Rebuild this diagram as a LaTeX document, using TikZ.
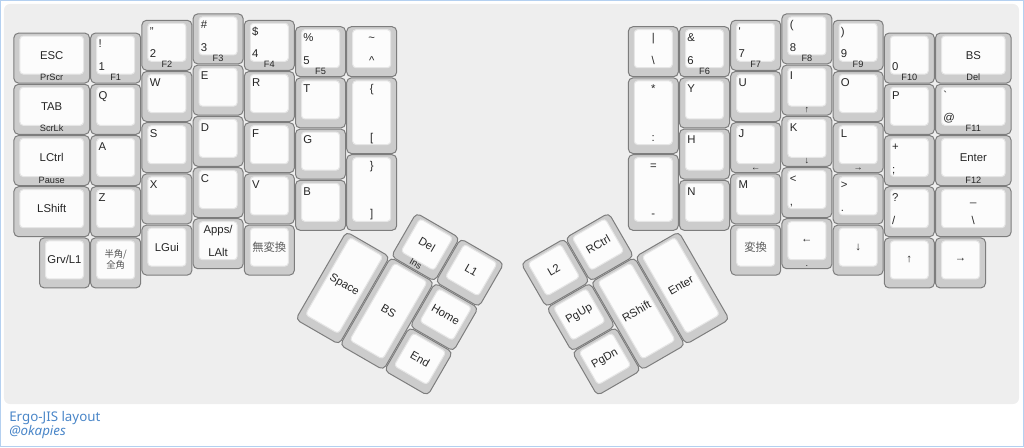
\documentclass[tikz,border=0pt]{standalone}
\usepackage{fontspec}
\setmainfont{Liberation Sans}
\newfontfamily\jpfont{Noto Sans CJK JP}
\newfontfamily\capfont{Noto Sans}

\definecolor{keyside}{HTML}{CCCCCC}
\definecolor{keyedge}{HTML}{7D7D7D}
\definecolor{keyface}{HTML}{FCFCFC}
\definecolor{faceedge}{HTML}{E6E6E6}
\definecolor{panelgray}{HTML}{EEEEEE}
\definecolor{framblue}{HTML}{B4D0F0}
\definecolor{captblue}{HTML}{4A86C8}
\definecolor{ink}{HTML}{262626}

% key: name, x, y, w, h, top-left, bottom-left, centre, front
\newcommand{\kbkey}[9]{%
  \node[keycap, minimum width={#4*38.4pt-0.9pt}, minimum height={#5*38.4pt-0.9pt}] (#1) at ({#2+#4/2},{#3+#5/2}) {};
  \node[keytop, minimum width={#4*38.4pt-9.9pt}, minimum height={#5*38.4pt-9.9pt}] (#1-top) at ({#2+#4/2},{#3+#5/2-0.0586}) {};
  \if\relax\detokenize{#6}\relax\else
    \node[lgd, anchor=base west] (#1-tl) at ({#2+0.16},{#3+0.30}) {#6};\fi
  \if\relax\detokenize{#7}\relax\else
    \node[lgd, anchor=base west] (#1-bl) at ({#2+0.16},{#3+#5-0.254}) {#7};\fi
  \if\relax\detokenize{#8}\relax\else
    \node[lgd] (#1-c) at ({#2+#4/2},{#3+#5/2-0.0586}) {#8};\fi
  \if\relax\detokenize{#9}\relax\else
    \node[frontlgd] (#1-f) at ({#2+#4/2},{#3+#5-0.06}) {#9};\fi
}
% key with centred top and bottom legends: name, x, y, w, h, top, bottom
\newcommand{\kbkeyc}[7]{%
  \node[keycap, minimum width={#4*38.4pt-0.9pt}, minimum height={#5*38.4pt-0.9pt}] (#1) at ({#2+#4/2},{#3+#5/2}) {};
  \node[keytop, minimum width={#4*38.4pt-9.9pt}, minimum height={#5*38.4pt-9.9pt}] (#1-top) at ({#2+#4/2},{#3+#5/2-0.0586}) {};
  \node[lgd, anchor=base] (#1-t) at ({#2+#4/2},{#3+0.30}) {#6};
  \node[lgd, anchor=base] (#1-b) at ({#2+#4/2},{#3+#5-0.254}) {#7};
}

\begin{document}
\begin{tikzpicture}[x=38.4pt, y=-38.4pt,
    keycap/.style={rectangle, draw=keyedge, fill=keyside, line width=0.75pt, rounded corners=3.5pt, inner sep=0pt},
    keytop/.style={rectangle, draw=faceedge, fill=keyface, line width=0.75pt, rounded corners=2.5pt, inner sep=0pt},
    lgd/.style={inner sep=0pt, text=ink, font=\fontsize{8.5}{10}\selectfont},
    frontlgd/.style={inner sep=0pt, text=ink, font=\fontsize{6.9}{8}\selectfont, anchor=base},
    capt/.style={inner sep=0pt, text=captblue, font=\capfont\fontsize{10}{12}\selectfont, anchor=base west}]
    \useasboundingbox (-0.2598,-0.2598) rectangle (19.7402,8.4707);
    \draw[framblue, line width=0.75pt] (-0.25,-0.25) rectangle (19.7304,8.4609);
    \fill[panelgray, rounded corners=4.5pt] (-0.182,-0.182) rectangle (19.643,7.631);

    % Left hand, column 0
    \kbkey{esc}{0}{0.375}{1.5}{1}{}{}{ESC}{PrScr}
    \kbkey{tab}{0}{1.375}{1.5}{1}{}{}{TAB}{ScrLk}
    \kbkey{lctrl}{0}{2.375}{1.5}{1}{}{}{LCtrl}{Pause}
    \kbkey{lshift}{0}{3.375}{1.5}{1}{}{}{LShift}{}
    \kbkey{grv}{0.5}{4.375}{1}{1}{}{}{Grv/L1}{}
    % column 1
    \kbkey{one}{1.5}{0.375}{1}{1}{!}{1}{}{F1}
    \kbkey{q}{1.5}{1.375}{1}{1}{Q}{}{}{}
    \kbkey{a}{1.5}{2.375}{1}{1}{A}{}{}{}
    \kbkey{z}{1.5}{3.375}{1}{1}{Z}{}{}{}
    \kbkey{hankaku}{1.5}{4.375}{1}{1}{}{}{}{}
    \node[lgd, align=center, text=ink!80, font=\jpfont\fontsize{7}{8.3}\selectfont] (hankaku-c) at (2,4.8164) {半角/\\全角};
    % column 2
    \kbkey{two}{2.5}{0.125}{1}{1}{"}{2}{}{F2}
    \kbkey{w}{2.5}{1.125}{1}{1}{W}{}{}{}
    \kbkey{s}{2.5}{2.125}{1}{1}{S}{}{}{}
    \kbkey{x}{2.5}{3.125}{1}{1}{X}{}{}{}
    \kbkey{lgui}{2.5}{4.125}{1}{1}{}{}{LGui}{}
    % column 3
    \kbkey{three}{3.5}{0}{1}{1}{\#}{3}{}{F3}
    \kbkey{e}{3.5}{1}{1}{1}{E}{}{}{}
    \kbkey{d}{3.5}{2}{1}{1}{D}{}{}{}
    \kbkey{c}{3.5}{3}{1}{1}{C}{}{}{}
    \kbkeyc{lalt}{3.5}{4}{1}{1}{Apps/}{LAlt}
    % column 4
    \kbkey{four}{4.5}{0.125}{1}{1}{\$}{4}{}{F4}
    \kbkey{r}{4.5}{1.125}{1}{1}{R}{}{}{}
    \kbkey{f}{4.5}{2.125}{1}{1}{F}{}{}{}
    \kbkey{v}{4.5}{3.125}{1}{1}{V}{}{}{}
    \kbkey{muhenkan}{4.5}{4.125}{1}{1}{}{}{{\jpfont\color{ink!75}無変換}}{}
    % column 5
    \kbkey{five}{5.5}{0.25}{1}{1}{\%}{5}{}{F5}
    \kbkey{t}{5.5}{1.25}{1}{1}{T}{}{}{}
    \kbkey{g}{5.5}{2.25}{1}{1}{G}{}{}{}
    \kbkey{b}{5.5}{3.25}{1}{1}{B}{}{}{}
    % column 6
    \kbkeyc{tilde}{6.5}{0.25}{1}{1}{\textasciitilde}{\textasciicircum}
    \kbkeyc{lbrace}{6.5}{1.25}{1}{1.5}{\{}{[}
    \kbkeyc{rbrace}{6.5}{2.75}{1}{1.5}{\}}{]}

    % Left thumb cluster
    \begin{scope}[shift={(6.5,4.25)}, rotate=-30, transform shape]
        \kbkey{space}{0}{0}{1}{2}{}{}{Space}{}
        \kbkey{bs}{1}{0}{1}{2}{}{}{BS}{}
        \kbkey{del}{1}{-1}{1}{1}{}{}{Del}{Ins}
        \kbkey{lone}{2}{-1}{1}{1}{}{}{L1}{}
        \kbkey{home}{2}{0}{1}{1}{}{}{Home}{}
        \kbkey{end}{2}{1}{1}{1}{}{}{End}{}
    \end{scope}

    % Right thumb cluster
    \begin{scope}[shift={(13,4.25)}, rotate=30, transform shape]
        \kbkey{tenter}{-1}{0}{1}{2}{}{}{Enter}{}
        \kbkey{rshift}{-2}{0}{1}{2}{}{}{RShift}{}
        \kbkey{rctrl}{-2}{-1}{1}{1}{}{}{RCtrl}{}
        \kbkey{ltwo}{-3}{-1}{1}{1}{}{}{L2}{}
        \kbkey{pgup}{-3}{0}{1}{1}{}{}{PgUp}{}
        \kbkey{pgdn}{-3}{1}{1}{1}{}{}{PgDn}{}
    \end{scope}

    % Right hand, column 0
    \kbkeyc{bar}{12}{0.25}{1}{1}{|}{\textbackslash}
    \kbkeyc{colon}{12}{1.25}{1}{1.5}{*}{:}
    \kbkeyc{minus}{12}{2.75}{1}{1.5}{=}{-}
    % column 1
    \kbkey{six}{13}{0.25}{1}{1}{\&}{6}{}{F6}
    \kbkey{y}{13}{1.25}{1}{1}{Y}{}{}{}
    \kbkey{h}{13}{2.25}{1}{1}{H}{}{}{}
    \kbkey{n}{13}{3.25}{1}{1}{N}{}{}{}
    % column 2
    \kbkey{seven}{14}{0.125}{1}{1}{\textquotesingle}{7}{}{F7}
    \kbkey{u}{14}{1.125}{1}{1}{U}{}{}{}
    \kbkey{j}{14}{2.125}{1}{1}{J}{}{}{←}
    \kbkey{m}{14}{3.125}{1}{1}{M}{}{}{}
    \kbkey{henkan}{14}{4.125}{1}{1}{}{}{{\jpfont\color{ink!75}変換}}{}
    % column 3
    \kbkey{eight}{15}{0}{1}{1}{(}{8}{}{F8}
    \kbkey{i}{15}{1}{1}{1}{I}{}{}{↑}
    \kbkey{k}{15}{2}{1}{1}{K}{}{}{↓}
    \kbkey{comma}{15}{3}{1}{1}{<}{,}{}{}
    \kbkey{left}{15}{4}{1}{1}{}{}{←}{.}
    % column 4
    \kbkey{nine}{16}{0.125}{1}{1}{)}{9}{}{F9}
    \kbkey{o}{16}{1.125}{1}{1}{O}{}{}{}
    \kbkey{l}{16}{2.125}{1}{1}{L}{}{}{→}
    \kbkey{period}{16}{3.125}{1}{1}{>}{.}{}{}
    \kbkey{down}{16}{4.125}{1}{1}{}{}{↓}{}
    % column 5
    \kbkey{zero}{17}{0.375}{1}{1}{}{0}{}{F10}
    \kbkey{p}{17}{1.375}{1}{1}{P}{}{}{}
    \kbkey{semi}{17}{2.375}{1}{1}{+}{;}{}{}
    \kbkey{slash}{17}{3.375}{1}{1}{?}{/}{}{}
    \kbkey{up}{17}{4.375}{1}{1}{}{}{↑}{}
    % column 6
    \kbkey{rbs}{18}{0.375}{1.5}{1}{}{}{BS}{Del}
    \kbkey{at}{18}{1.375}{1.5}{1}{\textasciigrave}{@}{}{F11}
    \kbkey{enter}{18}{2.375}{1.5}{1}{}{}{Enter}{F12}
    \kbkeyc{yen}{18}{3.375}{1.5}{1}{\_}{\textbackslash}
    \kbkey{right}{18}{4.375}{1}{1}{}{}{→}{}

    % Caption
    \node[capt] (title) at (-0.084,7.965) {Ergo-JIS layout};
    \node[capt, font=\capfont\itshape\fontsize{10}{12}\selectfont] (author) at (-0.084,8.238) {@okapies};
\end{tikzpicture}
\end{document}
